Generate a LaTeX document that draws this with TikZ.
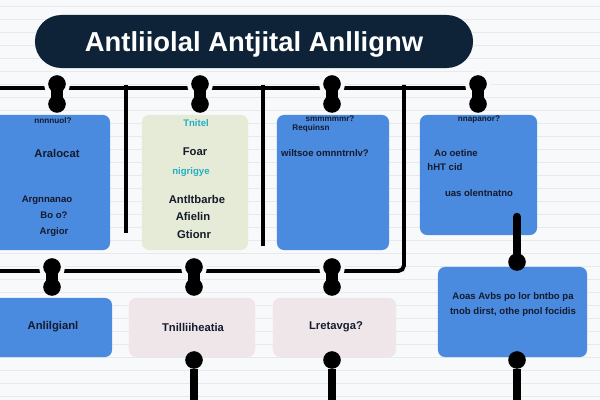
\documentclass[tikz,border=0pt]{standalone}
\usepackage{fontspec}
\setmainfont{Liberation Sans}
\usepackage{xcolor}
\usepackage{tikz}
\usetikzlibrary{positioning}
\definecolor{titlenavy}{HTML}{0E2238}
\definecolor{cardblue}{HTML}{4A8ADF}
\definecolor{cardsage}{HTML}{E5EBD7}
\definecolor{cardmist}{HTML}{EFE6EA}
\definecolor{inkdark}{HTML}{151A2C}
\definecolor{inkcyan}{HTML}{22AFC4}
\definecolor{paper}{HTML}{F8F9FB}
\definecolor{ruling}{HTML}{E6E9EE}

\begin{document}
\begin{tikzpicture}[
        x=0.025cm, y=-0.025cm,
        card/.style = {rectangle, rounded corners=5pt, inner sep=0pt},
        bluecard/.style = {card, fill=cardblue},
        sagecard/.style = {card, fill=cardsage},
        mistcard/.style = {card, fill=cardmist},
        txt/.style = {inner sep=0pt, text=inkdark, font=\bfseries\fontsize{8}{9}\selectfont},
        smalltxt/.style = {txt, font=\bfseries\fontsize{6.8}{8}\selectfont},
        tinytxt/.style = {txt, font=\bfseries\fontsize{5.8}{7}\selectfont},
        cyantxt/.style = {txt, text=inkcyan, font=\bfseries\fontsize{6.8}{8}\selectfont},
        knob/.style = {circle, fill=black, inner sep=0pt, minimum size=0.44cm},
        haloknob/.style = {knob, preaction={draw=paper, line width=6pt}},
        wire/.style = {draw=black, line width=2.8pt},
        neck/.style = {draw=black, line width=8pt},
        stem/.style = {draw=black, line width=6pt}
    ]

        \clip (0,0) rectangle (600,400);
        \fill[paper] (0,0) rectangle (600,400);
        \foreach \y in {6,19,...,396}
            \draw[ruling, line width=0.6pt] (0,\y) -- (600,\y);

        % title
        \node (title) [rectangle, rounded corners=0.66cm, fill=titlenavy, minimum width=10.95cm, minimum height=1.325cm] at (254,41.5) {};
        \node (titletext) [inner sep=0pt, text=white, font=\bfseries\fontsize{19.5}{22}\selectfont] at (254,44) {Antliiolal Antjital Anllignw};

        % upper row
        \node (cardA) [bluecard, minimum width=3cm, minimum height=3.375cm] at (50,182.5) {};
        \node (cardB) [sagecard, minimum width=2.65cm, minimum height=3.375cm] at (195,182.5) {};
        \node (cardC) [bluecard, minimum width=2.8cm, minimum height=3.375cm] at (333,182.5) {};
        \node (cardD) [bluecard, minimum width=2.925cm, minimum height=3cm] at (478.5,175) {};

        % lower row
        \node (cardE) [bluecard, minimum width=3.05cm, minimum height=1.475cm] at (51,327.5) {};
        \node (cardF) [mistcard, minimum width=3.15cm, minimum height=1.475cm] at (192,327.5) {};
        \node (cardG) [mistcard, minimum width=3.075cm, minimum height=1.475cm] at (334.5,327.5) {};
        \node (cardH) [bluecard, minimum width=3.725cm, minimum height=2.25cm] at (512.5,312) {};

        % texts
        \node (a1) [tinytxt] at (53,121) {nnnnuol?};
        \node (a2) [txt] at (57,153) {Aralocat};
        \node (a3) [smalltxt] at (47,200) {Argnnanao};
        \node (a4) [smalltxt] at (54,215) {Bo o?};
        \node (a5) [smalltxt] at (54,232) {Argior};

        \node (b1) [cyantxt] at (196,123) {Tnitel};
        \node (b2) [txt] at (195,152) {Foar};
        \node (b3) [cyantxt] at (191,172) {nigrigye};
        \node (b4) [txt] at (197,199) {Antltbarbe};
        \node (b5) [txt] at (193,216) {Afielin};
        \node (b6) [txt] at (194,234) {Gtionr};

        \node (c1) [tinytxt] at (330,119) {smmmmmr?};
        \node (c2) [tinytxt] at (311,128) {Requinsn};
        \node (c3) [smalltxt] at (325,153) {wiltsoe omnntrnlv?};

        \node (d1) [tinytxt] at (479,120) {nnapanor?};
        \node (d2) [smalltxt] at (456,153) {Ao oetine};
        \node (d3) [smalltxt] at (445,167) {hHT cid};
        \node (d4) [smalltxt] at (479,193) {uas olentnatno};

        \node (e1) [txt] at (53,327) {Anlilgianl};
        \node (f1) [txt] at (193,327) {Tnilliiheatia};
        \node (g1) [txt] at (336,327) {Lretavga?};
        \node (h1) [smalltxt] at (513,297) {Aoas Avbs po lor bntbo pa};
        \node (h2) [smalltxt] at (513,312) {tnob dirst, othe pnol focidis};

        % wires
        \coordinate (topL) at (0,88);
        \coordinate (topR) at (466,88);
        \coordinate (v1t) at (126,85);
        \coordinate (v1b) at (126,233);
        \coordinate (v2t) at (263,85);
        \coordinate (v2b) at (263,246);
        \coordinate (v3t) at (404,85);
        \coordinate (v3c) at (404,271);
        \coordinate (lowL) at (0,271);

        \draw[wire] (topL) -- (topR);
        \draw[wire] (v1t) -- (v1b);
        \draw[wire] (v2t) -- (v2b);
        \draw[wire, rounded corners=4pt] (v3t) -- (v3c) -- (lowL);

        % knobs on the upper line
        \foreach \x [count=\i] in {57,200,332,478} {
            \node (up\i) [haloknob] at (\x,84) {};
            \node (dn\i) [knob] at (\x,104) {};
            \draw[neck] (up\i.center) -- (dn\i.center);
        }
        % knobs on the lower line
        \foreach \x [count=\i] in {52,194,332} {
            \node (lup\i) [haloknob] at (\x,267) {};
            \node (ldn\i) [knob] at (\x,287) {};
            \draw[neck] (lup\i.center) -- (ldn\i.center);
        }

        % D to H
        \coordinate (dStem) at (517,217);
        \node (hTop) [knob] at (517,262) {};
        \draw[stem, line cap=round] (dStem) -- (hTop);

        % stems below
        \foreach \x [count=\i] in {194,332,517} {
            \node (bot\i) [knob] at (\x,360) {};
            \coordinate (end\i) at (\x,405);
            \draw[stem] (bot\i) -- (end\i);
        }

    \end{tikzpicture}
\end{document}
